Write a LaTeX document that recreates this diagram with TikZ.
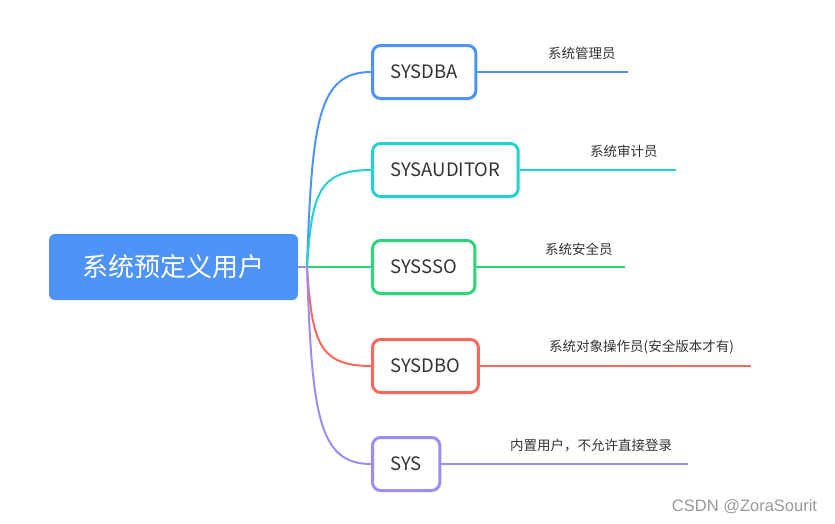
\documentclass[tikz,border=0pt]{standalone}
\usepackage{fontspec}
\setmainfont{Noto Sans CJK SC}
\newfontfamily\wmfont{Liberation Sans}
\definecolor{rootblue}{HTML}{4E94F8}
\definecolor{dbacol}{HTML}{4E94F8}
\definecolor{audcol}{HTML}{22D2CE}
\definecolor{ssocol}{HTML}{2CD57A}
\definecolor{dbocol}{HTML}{F8685C}
\definecolor{syscol}{HTML}{9F8CF2}
\definecolor{txtgray}{HTML}{333333}
\tikzset{
  userbox/.style={draw, line width=3pt, rounded corners=8pt, fill=white,
    minimum height=53pt, inner xsep=18pt, anchor=west,
    text=txtgray, font=\fontsize{18.5}{20}\selectfont},
  note/.style={anchor=west, inner sep=0pt, text=txtgray,
    font=\fontsize{13.5}{15}\selectfont},
  branch/.style={line width=2pt}
}
\begin{document}
\begin{tikzpicture}[x=1pt,y=-1pt]
\useasboundingbox (0,0) rectangle (835,523);
\node[fill=rootblue, rounded corners=6pt, minimum width=249pt, minimum height=66pt,
  text=white, font=\fontsize{26}{28}\selectfont] (root) at (173.5,267) {系统预定义用户};
\coordinate (hub) at (307,267);

% child boxes
\node[userbox, draw=dbacol] (dba) at (371,72) {SYSDBA};
\node[userbox, draw=audcol] (aud) at (371,170) {SYSAUDITOR};
\node[userbox, draw=ssocol] (sso) at (371,267) {SYSSSO};
\node[userbox, draw=dbocol] (dbo) at (371,366) {SYSDBO};
\node[userbox, draw=syscol] (sys) at (371,464) {SYS};

% notes
\node[note] (dbat) at (548,53) {系统管理员};
\node[note] (audt) at (590,151) {系统审计员};
\node[note] (ssot) at (545,249) {系统安全员};
\node[note] (dbot) at (549,347) {系统对象操作员(安全版本才有)};
\node[note] (syst) at (510,445) {内置用户，不允许直接登录};
\coordinate (dbae) at (628,72);
\coordinate (aude) at (676,170);
\coordinate (ssoe) at (625,267);
\coordinate (dboe) at (751,366);
\coordinate (syse) at (688,464);

% branches
\draw[branch, dbacol] (hub) .. controls +(5,-146) and +(-53,0) .. (dba.west);
\draw[branch, audcol] (hub) .. controls +(5,-73) and +(-53,0) .. (aud.west);
\draw[branch, ssocol] (hub) -- (sso.west);
\draw[branch, dbocol] (hub) .. controls +(5,74) and +(-53,0) .. (dbo.west);
\draw[branch, syscol] (hub) .. controls +(5,147) and +(-53,0) .. (sys.west);
\draw[branch, syscol] (root.east) -- (hub);

\draw[branch, dbacol] (dba.east) -- (dbae);
\draw[branch, audcol] (aud.east) -- (aude);
\draw[branch, ssocol] (sso.east) -- (ssoe);
\draw[branch, dbocol] (dbo.east) -- (dboe);
\draw[branch, syscol] (sys.east) -- (syse);

\node[text=black!40, font=\wmfont\fontsize{16.5}{18}\selectfont] (wm) at (744.5,507) {CSDN @ZoraSourit};
\end{tikzpicture}
\end{document}
